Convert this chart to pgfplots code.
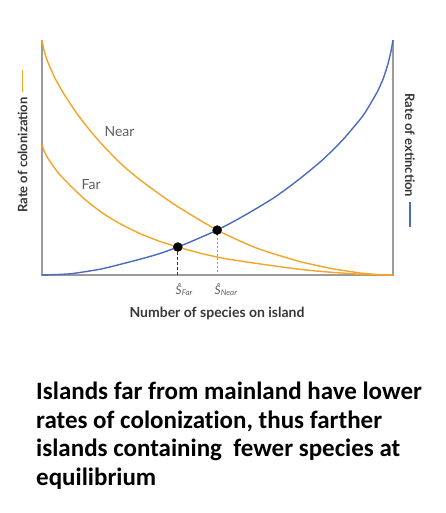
\documentclass[border=0pt]{standalone}
\usepackage{pgfplots}
\pgfplotsset{compat=1.18}
\usepackage{fontspec}
\setmainfont{Lato}
\newfontfamily\capfont[Ligatures=NoCommon]{Carlito}
\definecolor{orng}{RGB}{243,165,40}
\definecolor{blu}{RGB}{74,107,190}
\definecolor{axg}{RGB}{155,155,155}
\definecolor{lbl}{RGB}{95,95,95}
\definecolor{dlbl}{RGB}{55,55,55}
\begin{document}
\begin{tikzpicture}[x=1pt,y=1pt]
\useasboundingbox (0,0) rectangle (446,513);
\begin{axis}[at={(42pt,238pt)}, anchor=south west, scale only axis,
  width=351pt, height=235pt, xmin=0, xmax=100, ymin=0, ymax=100,
  hide axis, clip=false]
\draw[axg, line width=1.3pt] (axis cs:0,100) -- (axis cs:0,0) -- (axis cs:100,0) -- (axis cs:100,100);
% Near colonization
\addplot[orng, line width=1.4pt, smooth, tension=0.35] coordinates {
(0,100) (0.6,95.5) (1.5,91.2) (3.6,84.0) (6.5,76.4) (10.3,68.0) (14.05,60.8) (17.9,54.3)
(22.6,47.2) (28,40.4) (37.4,30.3) (49.9,19.1) (61.2,11.4) (73.5,5.7) (83,2.6)
(91,0.8) (97,0.05) (100,0)};
% Far colonization
\addplot[orng, line width=1.4pt, smooth, tension=0.35] coordinates {
(0,55.6) (0.6,52.8) (1.7,49.6) (4.6,43.5) (8.3,37.7) (12.2,32.2) (17,26.6) (22,22)
(27.5,17.9) (33,14.6) (38.7,11.9) (45,9.3) (51.7,7.1) (61.2,4.9) (73.5,2.4)
(82,1.2) (91,0.3) (97,0.02) (100,0)};
% Extinction
\addplot[blu, line width=1.4pt, smooth, tension=0.35] coordinates {
(0,0) (8,0.5) (17,2.6) (27.9,6.7) (33.5,9.1) (38.7,11.9) (44,15.2) (49.9,19.1)
(55.5,23.5) (61.2,28.4) (66,32.8) (70.6,37.7) (74.4,42.1) (80.1,49.2)
(85.8,57.7) (91.5,67.9) (95.4,77.6) (97.2,83.5) (98.5,89.5) (99.4,95) (100,100)};
% drop lines
\addplot[dlbl, line width=1pt, dash pattern=on 3pt off 2pt] coordinates {(38.7,11.9) (38.7,0)};
\addplot[axg, line width=1pt, dash pattern=on 2pt off 2pt] coordinates {(49.9,19.1) (49.9,0)};
% equilibria
\addplot[only marks, mark=*, mark size=4.5pt, black] coordinates {(38.7,11.9) (49.9,19.1)};
\node[lbl, font=\fontsize{14}{16}\selectfont] at (axis cs:22.1,60.9) {Near};
\node[lbl, font=\fontsize{14}{16}\selectfont] at (axis cs:14,38.3) {Far};
\end{axis}
% equilibrium labels
\node[lbl, anchor=north west, inner sep=0pt, font=\fontsize{12}{13}\selectfont\itshape] at (175.5,230) {Ŝ\textsubscript{Far}};
\node[lbl, anchor=north west, inner sep=0pt, font=\fontsize{12}{13}\selectfont\itshape] at (214.5,230) {Ŝ\textsubscript{Near}};
% axis titles
\node[dlbl, font=\fontsize{14}{16}\selectfont\bfseries] at (217,200) {Number of species on island};
\node[dlbl, rotate=90, font=\fontsize{13}{15}\selectfont\bfseries] at (22.6,358) {Rate of colonization};
\draw[orng, line width=1.4pt] (22.6,421) -- (22.6,443);
\node[dlbl, rotate=-90, font=\fontsize{13}{15}\selectfont\bfseries] at (410,367.5) {Rate of extinction};
\draw[blu, line width=1.4pt] (410,311) -- (410,286);
% caption
\begin{scope}[every node/.style={anchor=base west, inner sep=0pt, font=\capfont\bfseries\fontsize{25}{28}\selectfont}]
\node at (36,113) {Islands far from mainland have lower};
\node at (36,84.5) {rates of colonization, thus farther};
\node at (36,56) {islands containing\ \ fewer species at};
\node at (36,27.5) {equilibrium};
\end{scope}
\end{tikzpicture}
\end{document}
